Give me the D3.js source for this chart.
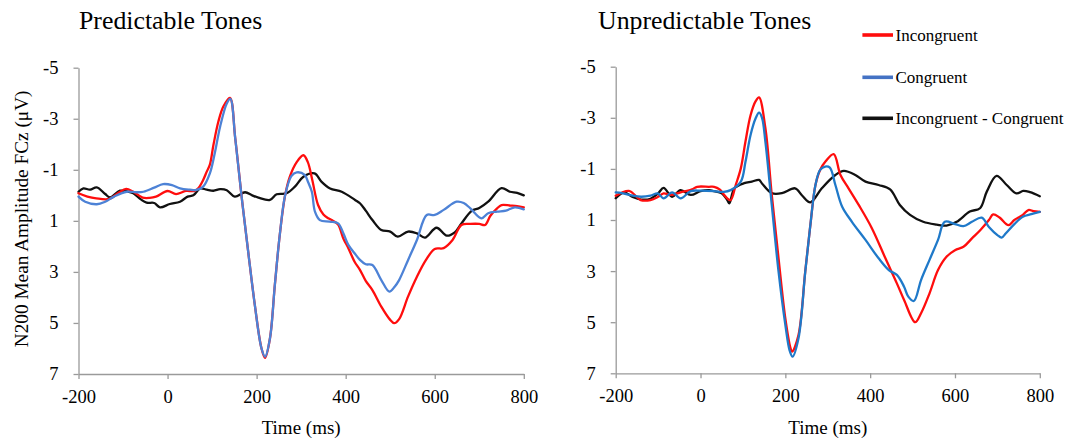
<!DOCTYPE html>
<html>
<head>
<meta charset="utf-8">
<script src="https://cdn.jsdelivr.net/npm/d3@7"></script>
<style>
  html, body { margin: 0; padding: 0; background: #fff; }
  svg { display: block; }
</style>
</head>
<body>
<svg id="chart" width="1075" height="441"></svg>
<script>
// ---------------- DATA ----------------
const panelTitles = ["Predictable Tones", "Unpredictable Tones"];
const seriesNames = ["Incongruent", "Congruent", "Incongruent - Congruent"];
const xTicks = [-200, 0, 200, 400, 600, 800];
const yTicks = [-5, -3, -1, 1, 3, 5, 7];
const xLabel = "Time (ms)";
const yLabel = "N200 Mean Amplitude FCz (\u03bcV)";

// [time ms, amplitude µV]
const predIncongruent = [[-200,-0.08],[-180,0.05],[-160,0.12],[-131,0.14],[-110,-0.1],[-93,-0.25],[-78,-0.15],[-56,0.09],[-40,0.1],[-26,0.05],[0,-0.17],[19,-0.05],[41,-0.17],[60,-0.17],[70,-0.3],[80,-0.6],[88,-0.93],[95,-1.2],[103,-1.97],[114,-2.88],[125,-3.47],[140,-3.82],[152,-2.23],[166,0],[181,2.2],[196,4.3],[211,6.0],[219,6.37],[230,5.6],[241,3.5],[252,1.55],[264,0],[275,-0.75],[290,-1.3],[305,-1.57],[315,-1.3],[325,-0.6],[338,0.38],[350,0.75],[361,0.9],[372,1.0],[383,1.15],[395,1.7],[406,2.07],[420,2.6],[432,2.92],[445,3.35],[460,3.71],[480,4.36],[500,4.88],[509,5.01],[520,4.85],[540,3.97],[560,3.19],[580,2.54],[600,2.1],[620,2.07],[640,1.75],[660,1.16],[680,1.12],[700,1.12],[713,1.16],[725,0.8],[740,0.51],[750,0.38],[770,0.4],[785,0.42],[800,0.47]];
const predCongruent = [[-200,0.05],[-185,0.25],[-159,0.35],[-140,0.25],[-120,0.05],[-92,-0.14],[-70,-0.12],[-54,-0.14],[-30,-0.3],[-10,-0.44],[10,-0.4],[28,-0.27],[50,-0.22],[65,-0.21],[80,-0.34],[95,-0.86],[106,-1.65],[118,-2.69],[133,-3.6],[141,-3.78],[152,-2.23],[166,0],[181,2.2],[196,4.3],[211,6.0],[219,6.32],[230,5.6],[241,3.5],[252,1.55],[264,0],[278,-0.75],[290,-0.9],[308,-0.8],[316,-0.5],[324,-0.14],[331,0.64],[342,0.97],[364,1.03],[383,1.1],[395,1.5],[406,1.94],[420,2.27],[432,2.53],[445,2.7],[460,2.73],[480,3.32],[498,3.77],[510,3.58],[520,3.32],[540,2.54],[560,1.75],[582,0.77],[600,0.77],[620,0.57],[649,0.25],[665,0.3],[680,0.51],[705,0.9],[720,0.7],[740,0.64],[760,0.6],[780,0.47],[800,0.55]];
const predDifference = [[-200,-0.14],[-189,-0.27],[-174,-0.22],[-159,-0.31],[-140,-0.05],[-129,0.08],[-107,-0.18],[-90,-0.15],[-77,-0.08],[-60,0.16],[-47,0.29],[-30,0.3],[-17,0.47],[5,0.34],[28,0.25],[45,0.05],[58,0],[73,-0.27],[88,-0.22],[103,-0.18],[118,-0.24],[133,-0.2],[151,0.05],[174,-0.12],[190,0],[204,0.09],[230,0.18],[245,-0.04],[267,-0.08],[286,-0.34],[305,-0.73],[330,-0.86],[346,-0.53],[365,-0.27],[391,-0.14],[421,0.18],[432,0.31],[445,0.6],[460,0.97],[480,1.36],[500,1.42],[517,1.62],[540,1.42],[560,1.49],[578,1.66],[604,1.27],[627,1.58],[645,1.45],[660,1.1],[683,0.61],[700,0.5],[720,0.25],[750,-0.28],[769,-0.14],[785,-0.1],[800,0]];

const unpredIncongruent = [[-200,0.05],[-169,-0.14],[-150,0.1],[-141,0.22],[-118,0.22],[-100,0.09],[-87,-0.04],[-70,0.02],[-47,-0.08],[-20,-0.2],[-8,-0.3],[20,-0.3],[32,-0.3],[45,-0.2],[55,0],[63,0.15],[71,0.22],[83,-0.37],[95,-1.02],[106,-2.07],[118,-3.1],[130,-3.65],[138,-3.8],[153,-2.59],[168,0.02],[184,2.5],[200,4.85],[212,6.0],[216,6.15],[231,5.5],[247,3.0],[259,1.2],[271,-0.37],[282,-0.96],[295,-1.3],[314,-1.58],[330,-0.76],[349,-0.24],[373,0.41],[404,1.32],[436,2.5],[463,3.48],[480,4.13],[506,5.0],[520,4.65],[540,3.87],[560,2.96],[580,2.44],[600,2.18],[620,2.05],[640,1.72],[660,1.39],[680,1.0],[690,0.78],[705,0.9],[726,1.2],[740,1.0],[760,0.8],[773,0.61],[785,0.65],[800,0.68]];
const unpredCongruent = [[-200,-0.08],[-185,-0.05],[-160,0.05],[-140,0.09],[-118,0.05],[-101,-0.04],[-87,0.15],[-67,-0.08],[-47,0.15],[-23,-0.13],[0,-0.15],[32,-0.13],[55,-0.1],[71,-0.17],[95,-0.5],[106,-1.28],[118,-2.33],[130,-2.98],[138,-3.2],[145,-3.0],[153,-2.06],[168,0.41],[184,3.02],[200,5.1],[210,6.1],[217,6.35],[231,5.63],[247,3.02],[259,1.2],[271,-0.37],[282,-0.96],[294,-1.09],[305,-1.05],[318,-0.37],[334,0.48],[357,1.07],[389,1.78],[420,2.5],[444,2.96],[463,3.15],[480,3.61],[490,4.0],[503,4.17],[520,3.35],[540,2.56],[560,1.78],[576,1.07],[600,1.16],[620,1.24],[640,1.07],[663,0.91],[680,1.27],[700,1.59],[710,1.69],[720,1.52],[740,1.16],[760,0.87],[780,0.77],[800,0.68]];
const unpredDifference = [[-200,0.15],[-180,-0.08],[-160,0.1],[-140,0.2],[-118,0.17],[-100,-0.04],[-87,-0.26],[-67,0.09],[-47,-0.17],[-23,0.02],[0,-0.13],[20,-0.17],[32,-0.13],[50,-0.05],[63,0.22],[68,0.35],[80,-0.24],[103,-0.44],[121,-0.5],[138,-0.57],[145,-0.43],[168,-0.05],[192,-0.05],[223,-0.24],[240,0.05],[259,0.31],[286,-0.24],[318,-0.76],[338,-0.92],[365,-0.76],[389,-0.5],[420,-0.37],[447,-0.2],[470,0.41],[494,0.8],[525,1.07],[557,1.18],[580,1.22],[604,1.07],[635,0.67],[659,0.54],[675,-0.11],[698,-0.73],[722,-0.37],[745,-0.04],[761,-0.14],[777,-0.09],[800,0.07]];

// ---------------- LAYOUT / STYLE ----------------
const FONT = "'Liberation Serif', 'Times New Roman', serif";
const RED = "#ff0d0d", BLACK = "#111111";
const panels = [
  { title: panelTitles[0], series: [predIncongruent, predCongruent, predDifference],
    blue: "#4d82d6", left: 78.5, right: 523.8, top: 67.7, bottom: 374, titleX: 79, yLabel: true },
  { title: panelTitles[1], series: [unpredIncongruent, unpredCongruent, unpredDifference],
    blue: "#1f79c9", left: 615.7, right: 1039.8, top: 66.7, bottom: 373.3, titleX: 598, yLabel: false }
];

const svg = d3.select("#chart");

panels.forEach(p => {
  const x = d3.scaleLinear().domain([-200, 800]).range([p.left, p.right]);
  const y = d3.scaleLinear().domain([-5, 7]).range([p.top, p.bottom]);
  const g = svg.append("g");

  // axes
  const yAxis = d3.axisLeft(y).tickValues(yTicks).tickSize(5).tickSizeOuter(0)
    .tickPadding(15).tickFormat(d => String(d));
  const xAxis = d3.axisBottom(x).tickValues(xTicks).tickSize(5).tickSizeOuter(0)
    .tickFormat(d => String(d));

  const gy = g.append("g").attr("transform", `translate(${p.left},0)`).call(yAxis);
  const gx = g.append("g").attr("transform", `translate(0,${p.bottom})`).call(xAxis);
  [gx, gy].forEach(a => {
    a.select(".domain").attr("stroke", "#9a9a9a").attr("stroke-width", 1.3);
    a.selectAll(".tick line").attr("stroke", "#9a9a9a").attr("stroke-width", 1.3);
    a.selectAll(".tick text").attr("fill", "#000").style("font-family", FONT).style("font-size", "18.5px");
  });
  gx.selectAll(".tick text").attr("y", 29).attr("dy", 0);

  // x label
  g.append("text").attr("x", (p.left + p.right) / 2).attr("y", 434)
    .attr("text-anchor", "middle").style("font-family", FONT).style("font-size", "19px")
    .text(xLabel);

  // title
  g.append("text").attr("x", p.titleX).attr("y", 29)
    .style("font-family", FONT).style("font-size", "25.8px").text(p.title);

  if (p.yLabel) {
    g.append("text").attr("transform", `translate(28,${(p.top + p.bottom) / 2 - 2}) rotate(-90)`)
      .attr("text-anchor", "middle").style("font-family", FONT).style("font-size", "19.3px")
      .text(yLabel);
  }

  // lines
  const line = d3.line().x(d => x(d[0])).y(d => y(d[1])).curve(d3.curveCatmullRom.alpha(0.5));
  const colors = [RED, p.blue, BLACK];
  const order = [2, 0, 1];
  order.forEach(i => {
    g.append("path").datum(p.series[i]).attr("d", line)
      .attr("fill", "none").attr("stroke", colors[i]).attr("stroke-width", 2.3)
      .attr("stroke-linejoin", "round").attr("stroke-linecap", "round");
  });
});

// legend
const legendColors = [RED, "#4472c4", BLACK];
const legendY = [35, 77.3, 118.3];
const lg = svg.append("g");
seriesNames.forEach((name, i) => {
  lg.append("line").attr("x1", 862.4).attr("x2", 893).attr("y1", legendY[i]).attr("y2", legendY[i])
    .attr("stroke", legendColors[i]).attr("stroke-width", 3.6);
  lg.append("text").attr("x", 895.5).attr("y", legendY[i] + 6)
    .style("font-family", FONT).style("font-size", "17px").text(name);
});
</script>
</body>
</html>
